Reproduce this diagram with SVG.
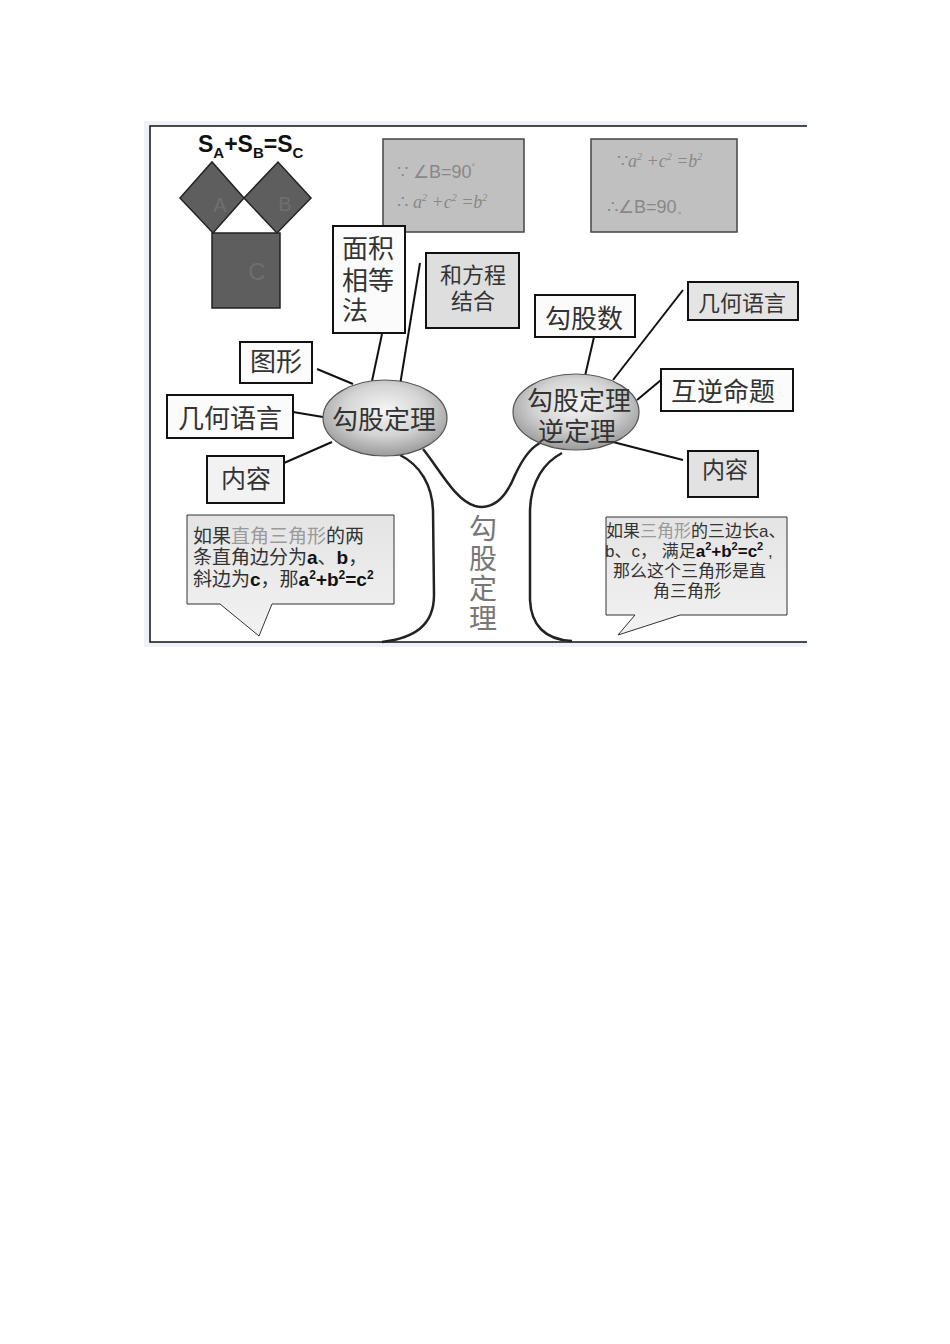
<svg xmlns="http://www.w3.org/2000/svg" width="950" height="1344" viewBox="0 0 950 1344">
<defs>
<radialGradient id="eg" cx="50%" cy="40%" r="60%">
<stop offset="0" stop-color="#f6f6f6"/>
<stop offset="0.55" stop-color="#d4d4d4"/>
<stop offset="1" stop-color="#9a9a9a"/>
</radialGradient>
<linearGradient id="bg" x1="0" y1="0" x2="0" y2="1">
<stop offset="0" stop-color="#e4e4e4"/>
<stop offset="1" stop-color="#f2f2f2"/>
</linearGradient>
<style>
.cjk{font-family:"Noto Sans CJK SC","Noto Sans CJK JP",sans-serif;fill:#333}
.bt{font-family:"Liberation Sans","Noto Sans CJK SC",sans-serif;fill:#333}
.box{stroke:#111;stroke-width:2}
.w{fill:#fbfbfb}
.g{fill:#e4e4e4}
.gray{fill:#c0c0c0;stroke:#444;stroke-width:1.5}
.math{font-family:"Liberation Sans",Arial,sans-serif;fill:#888}
.it{font-family:"Liberation Serif","Times New Roman",serif;font-style:italic;fill:#888}
.sq{fill:#5e5e5e;stroke:#222;stroke-width:1.5}
.lt{font-family:"Liberation Sans",Arial,sans-serif;fill:#6e6e6e}
.con{stroke:#111;stroke-width:2;fill:none}
.trunk{stroke:#222;stroke-width:2.5;fill:none}
.b{font-family:"Liberation Sans",Arial,sans-serif;font-weight:bold;fill:#111}
.grey{fill:#9a9a9a}
.bub{fill:url(#bg);stroke:#333;stroke-width:1}
</style>
</defs>
<rect x="0" y="0" width="950" height="1344" fill="#ffffff"/>
<rect x="144" y="121" width="663" height="526" fill="#eef1f8"/>
<rect x="150" y="126" width="657" height="516" fill="#ffffff"/>
<path d="M807 126 H150 V642 H807" fill="none" stroke="#111" stroke-width="1.5"/>

<g id="pythagoras-figure">
<text x="198" y="152" class="b" font-size="23">S<tspan font-size="15" dy="6">A</tspan><tspan dy="-6">+S</tspan><tspan font-size="15" dy="6">B</tspan><tspan dy="-6">=S</tspan><tspan font-size="15" dy="6">C</tspan></text>
<polygon class="sq" points="180,198 212,162 244,198 213,233"/>
<polygon class="sq" points="244,198 278,162 311,198 277,233"/>
<rect class="sq" x="212" y="233" width="68" height="75"/>
<text class="lt" x="220" y="212" font-size="20" text-anchor="middle">A</text>
<text class="lt" x="285" y="211" font-size="20" text-anchor="middle">B</text>
<text class="lt" x="257" y="280" font-size="24" text-anchor="middle">C</text>
</g>

<g id="condition-box-1">
<rect class="gray" x="383" y="139" width="141" height="93"/>
<text class="math" font-size="18" x="397" y="178">∵ ∠B=90<tspan font-size="9" dy="-8">°</tspan></text>
<text x="397" y="208" font-size="18"><tspan class="math">∴ </tspan><tspan class="it">a</tspan><tspan class="it" font-size="10" dy="-7">2</tspan><tspan class="it" dy="7"> +c</tspan><tspan class="it" font-size="10" dy="-7">2</tspan><tspan class="it" dy="7"> =b</tspan><tspan class="it" font-size="10" dy="-7">2</tspan></text>
</g>

<g id="condition-box-2">
<rect class="gray" x="591" y="139" width="146" height="93"/>
<text x="617" y="167" font-size="18"><tspan class="math">∵</tspan><tspan class="it">a</tspan><tspan class="it" font-size="10" dy="-7">2</tspan><tspan class="it" dy="7"> +c</tspan><tspan class="it" font-size="10" dy="-7">2</tspan><tspan class="it" dy="7"> =b</tspan><tspan class="it" font-size="10" dy="-7">2</tspan></text>
<text class="math" font-size="18" x="607" y="213">∴∠B=90<tspan font-size="12">。</tspan></text>
</g>

<g id="connectors">
<line class="con" x1="382" y1="334" x2="372" y2="381"/>
<line class="con" x1="420" y1="263" x2="400" y2="385"/>
<line class="con" x1="317" y1="369" x2="353" y2="384"/>
<line class="con" x1="293" y1="412" x2="323" y2="417"/>
<line class="con" x1="284" y1="463" x2="332" y2="442" stroke-width="3"/>
<line class="con" x1="594" y1="337" x2="585" y2="376"/>
<line class="con" x1="683" y1="290" x2="613" y2="380"/>
<line class="con" x1="637" y1="400" x2="661" y2="380"/>
<line class="con" x1="613" y1="442" x2="683" y2="460" stroke-width="3.5"/>
<path class="trunk" d="M400 455 C420 465 432 485 433 510 L434 595 C434 625 415 638 382 642"/>
<path class="trunk" d="M423 449 C440 470 455 500 475 506 C495 511 507 495 515 475 C522 460 530 448 540 443"/>
<path class="trunk" d="M562 453 C545 462 531 480 530 510 L530 600 C531 625 545 640 572 641"/>
</g>

<g id="mianji">
<rect class="box w" x="333" y="226" width="72" height="107" stroke-width="2.5"/>
<text class="bt" font-size="26" x="342" y="258">面积<tspan x="342" dy="32">相等</tspan><tspan x="342" dy="30">法</tspan></text>
</g>

<g id="fangcheng">
<rect class="box" fill="#dedede" x="426" y="253" width="93" height="75"/>
<text class="bt" font-size="22" x="473" y="283" text-anchor="middle">和方程<tspan x="473" dy="26">结合</tspan></text>
</g>

<g id="tuxing">
<rect class="box w" x="240" y="342" width="72" height="41"/>
<text class="cjk" font-size="26" x="276" y="371" text-anchor="middle">图形</text>
</g>

<g id="jihe-left">
<rect class="box w" x="167" y="395" width="126" height="43"/>
<text class="cjk" font-size="26" x="230" y="428" text-anchor="middle">几何语言</text>
</g>

<g id="neirong-left">
<rect class="box" fill="#f2f2f2" x="207" y="456" width="77" height="47"/>
<text class="cjk" font-size="25" x="246" y="488" text-anchor="middle">内容</text>
</g>

<g id="theorem">
<ellipse cx="385" cy="418" rx="62" ry="38" fill="url(#eg)" stroke="#555" stroke-width="1.2"/>
<text class="cjk" font-size="26" x="384" y="429" text-anchor="middle">勾股定理</text>
</g>

<g id="gougushu">
<rect class="box w" x="535" y="295" width="100" height="42"/>
<text class="cjk" font-size="26" x="584" y="328" text-anchor="middle">勾股数</text>
</g>

<g id="jihe-right">
<rect class="box g" x="688" y="282" width="110" height="38"/>
<text class="cjk" font-size="22" x="742" y="311" text-anchor="middle">几何语言</text>
</g>

<g id="converse">
<ellipse cx="576" cy="412" rx="63" ry="38" fill="url(#eg)" stroke="#555" stroke-width="1.2"/>
<text class="bt" font-size="26" x="579" y="410" text-anchor="middle">勾股定理<tspan x="577" dy="31">逆定理</tspan></text>
</g>

<g id="huni">
<rect class="box w" x="661" y="369" width="132" height="42"/>
<text class="cjk" font-size="26" x="723" y="401" text-anchor="middle">互逆命题</text>
</g>

<g id="neirong-right">
<rect class="box" fill="#e2e2e2" x="688" y="451" width="70" height="46"/>
<text class="cjk" font-size="23" x="725" y="478" text-anchor="middle">内容</text>
</g>

<g id="trunk-label">
<text class="cjk" font-size="28" x="483" y="514" writing-mode="vertical-rl" letter-spacing="2" style="fill:#777">勾股定理</text>
</g>

<g id="bubble-left">
<path class="bub" d="M187 515 H394 V604 H272 L259 636 L220 604 H187 Z"/>
<text class="bt" font-size="19" x="193" y="543">如果<tspan class="grey">直角三角形</tspan>的两<tspan x="193" dy="21">条直角边分为</tspan><tspan class="b">a</tspan>、<tspan class="b">b</tspan>，<tspan x="193" dy="22">斜边为</tspan><tspan class="b">c</tspan>，那<tspan class="b">a</tspan><tspan class="b" font-size="12" dy="-7">2</tspan><tspan class="b" dy="7">+b</tspan><tspan class="b" font-size="12" dy="-7">2</tspan><tspan class="b" dy="7">=c</tspan><tspan class="b" font-size="12" dy="-7">2</tspan></text>
</g>

<g id="bubble-right">
<path class="bub" d="M606 517 H787 V615 H680 L618 635 L635 615 H606 Z"/>
<text class="bt" font-size="17" x="606" y="537">如果<tspan class="grey">三角形</tspan>的三边长a、<tspan x="605" dy="20">b、c， 满足</tspan><tspan class="b">a</tspan><tspan class="b" font-size="11" dy="-7">2</tspan><tspan class="b" dy="7">+b</tspan><tspan class="b" font-size="11" dy="-7">2</tspan><tspan class="b" dy="7">=c</tspan><tspan class="b" font-size="11" dy="-7">2</tspan><tspan dy="7"> ,</tspan><tspan x="613" dy="20">那么这个三角形是直</tspan><tspan x="653" dy="20">角三角形</tspan></text>
</g>
</svg>
